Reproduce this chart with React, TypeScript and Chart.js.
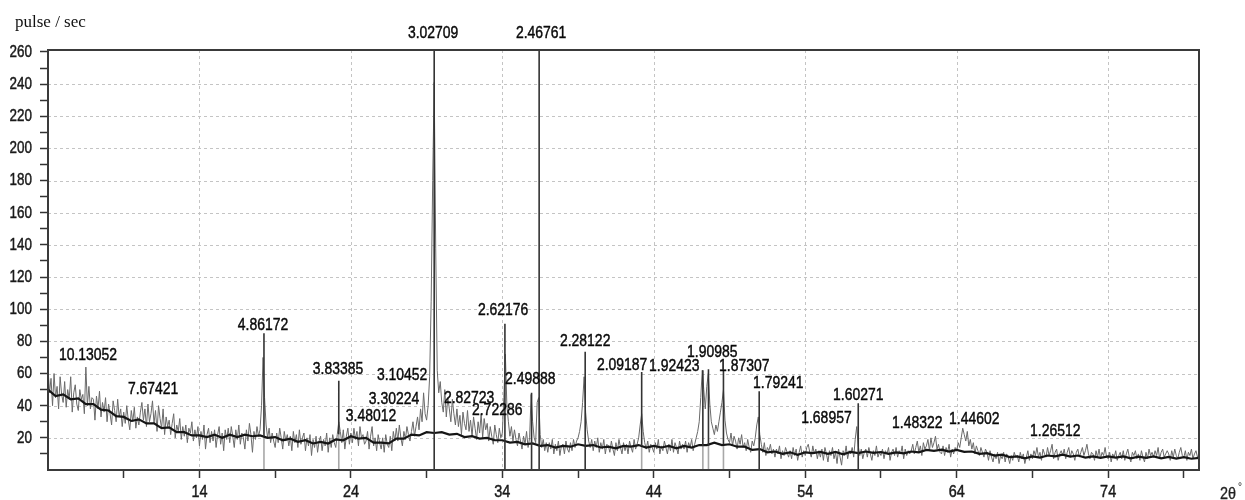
import React, { useEffect, useRef } from "react";
import { Chart, registerables } from "chart.js";

Chart.register(...registerables);

// ---------- data ----------
const angleStart = 4;
const angleStep = 0.1;
// raw counts (pulse / sec), every 0.1° 2θ from 4° to 80°
const rawCounts = [
  63, 48, 57, 40, 60, 45, 52, 38, 58, 47, // 4
  42, 55, 39, 50, 44, 58, 36, 48, 53, 41, // 5
  37, 50, 44, 47, 35, 64, 40, 52, 38, 45, // 6
  44, 31, 46, 38, 49, 33, 42, 36, 45, 30, // 7
  41, 35, 28, 43, 37, 30, 44, 33, 38, 27, // 8
  36, 29, 40, 31, 25, 37, 30, 39, 26, 33, // 9
  28, 36, 42, 31, 38, 27, 41, 30, 35, 43, // 10
  29, 37, 24, 40, 32, 26, 38, 22, 33, 27, // 11
  31, 22, 29, 35, 20, 28, 24, 32, 19, 27, // 12
  21, 28, 17, 26, 23, 30, 18, 25, 20, 27, // 13
  15, 24, 19, 28, 13, 22, 26, 17, 24, 18, // 14
  25, 14, 22, 27, 16, 23, 12, 25, 19, 26, // 15
  17, 27, 21, 14, 25, 19, 28, 16, 23, 20, // 16
  13, 25, 18, 29, 22, 11, 24, 19, 27, 21, // 17
  25, 40, 70, 45, 28, 20, 26, 17, 23, 18, // 18
  14, 23, 17, 26, 20, 13, 24, 18, 22, 15, // 19
  21, 12, 24, 17, 22, 14, 25, 16, 20, 23, // 20
  12, 20, 15, 22, 9, 19, 14, 21, 11, 18, // 21
  21, 12, 19, 15, 23, 11, 20, 14, 22, 17, // 22
  14, 22, 30, 24, 17, 25, 13, 21, 26, 16, // 23
  23, 17, 26, 19, 24, 15, 27, 20, 22, 16, // 24
  18, 24, 13, 21, 27, 15, 20, 12, 22, 17, // 25
  13, 20, 11, 22, 16, 14, 21, 12, 24, 18, // 26
  26, 18, 28, 20, 15, 24, 19, 27, 22, 18, // 27
  24, 30, 21, 27, 33, 25, 38, 30, 48, 35, // 28
  31, 40, 58, 105, 180, 241, 138, 62, 48, 55, // 29
  42, 36, 50, 33, 45, 38, 30, 44, 35, 28, // 30
  38, 27, 34, 22, 36, 29, 25, 37, 24, 31, // 31
  21, 33, 26, 19, 30, 23, 35, 20, 32, 25, // 32
  29, 18, 27, 21, 16, 28, 22, 17, 26, 20, // 33
  23, 45, 72, 40, 30, 21, 27, 18, 25, 19, // 34
  15, 23, 18, 13, 21, 16, 24, 14, 20, 47, // 35
  30, 20, 17, 42, 45, 22, 14, 19, 12, 17, // 36
  11, 17, 13, 19, 10, 16, 12, 18, 9, 15, // 37
  16, 10, 18, 13, 11, 17, 12, 19, 14, 18, // 38
  20, 24, 30, 42, 58, 36, 25, 18, 14, 19, // 39
  12, 18, 14, 20, 11, 17, 13, 19, 10, 16, // 40
  15, 11, 18, 13, 9, 17, 12, 19, 14, 10, // 41
  17, 12, 16, 10, 18, 14, 11, 19, 13, 16, // 42
  20, 28, 35, 24, 17, 13, 18, 11, 16, 14, // 43
  11, 17, 13, 19, 10, 15, 12, 18, 14, 10, // 44
  16, 12, 19, 11, 17, 14, 10, 18, 13, 16, // 45
  13, 18, 11, 17, 14, 19, 12, 16, 20, 24, // 46
  30, 45, 62, 50, 38, 52, 60, 41, 30, 26, // 47
  22, 28, 24, 30, 36, 42, 50, 31, 23, 19, // 48
  17, 23, 15, 21, 18, 13, 20, 16, 22, 14, // 49
  17, 12, 19, 14, 11, 18, 15, 20, 28, 33, // 50
  22, 16, 11, 17, 9, 14, 12, 16, 10, 13, // 51
  8, 13, 10, 15, 7, 12, 9, 14, 11, 8, // 52
  12, 7, 14, 9, 13, 6, 11, 15, 8, 12, // 53
  9, 14, 16, 11, 8, 15, 10, 13, 7, 12, // 54
  8, 13, 6, 14, 10, 5, 12, 9, 14, 7, // 55
  11, 4, 13, 8, 3, 12, 9, 15, 7, 12, // 56
  10, 14, 8, 19, 27, 15, 9, 13, 7, 11, // 57
  13, 8, 14, 10, 6, 12, 9, 15, 8, 11, // 58
  9, 13, 7, 12, 10, 14, 6, 11, 13, 9, // 59
  14, 8, 12, 10, 15, 7, 13, 9, 12, 10, // 60
  12, 16, 10, 14, 18, 11, 15, 9, 17, 13, // 61
  15, 19, 12, 20, 14, 17, 21, 13, 16, 11, // 62
  10, 15, 9, 14, 11, 16, 8, 13, 10, 14, // 63
  12, 17, 14, 20, 26, 22, 18, 24, 15, 19, // 64
  13, 17, 10, 15, 12, 9, 14, 11, 8, 13, // 65
  11, 6, 12, 8, 5, 10, 7, 11, 4, 9, // 66
  7, 11, 5, 10, 8, 4, 9, 6, 11, 8, // 67
  9, 5, 11, 7, 10, 4, 8, 12, 6, 10, // 68
  7, 12, 9, 14, 8, 11, 6, 13, 10, 8, // 69
  14, 9, 12, 16, 7, 11, 13, 6, 10, 12, // 70
  9, 13, 7, 11, 14, 8, 12, 10, 6, 11, // 71
  13, 8, 11, 14, 9, 12, 16, 10, 7, 11, // 72
  10, 6, 12, 8, 13, 7, 11, 9, 14, 8, // 73
  7, 11, 5, 10, 8, 12, 6, 9, 11, 7, // 74
  12, 6, 10, 13, 8, 5, 11, 9, 12, 7, // 75
  10, 6, 12, 8, 5, 11, 7, 13, 9, 11, // 76
  8, 12, 9, 14, 7, 11, 13, 8, 10, 12, // 77
  10, 6, 12, 8, 13, 9, 7, 11, 14, 9, // 78
  8, 12, 6, 11, 9, 13, 7, 10, 12, 8, // 79
  9, // 80
];

// smoothed background, every 0.5°
const bgStep = 0.5;
const backgroundCounts = [
  50, 46, 47, 44, 44.5, 41, 41, 37.5, 37, 33.5, // 4-8.5
  33, 30.5, 31.5, 29, 29, 26, 26.5, 23.5, 23.5, 21.5, // 9-13.5
  21.5, 20.5, 22, 20, 22, 20.5, 22, 21, 21.5, 20, // 14-18.5
  20.5, 18.5, 19.5, 17.5, 18.5, 16.5, 17.5, 16.5, 19, 18.5, // 19-23.5
  21, 19.5, 20, 17, 17, 16.5, 19.5, 19.5, 22, 21.5, // 24-28.5
  23.5, 23, 23.5, 22, 22.5, 20.5, 21, 19.5, 20, 18.5, // 29-33.5
  18.5, 17, 17.5, 16, 16.5, 15, 15.5, 14, 15, 14.5, // 34-38.5
  16, 15, 15.5, 14, 14.5, 13.5, 15, 14.5, 15.5, 14, // 39-43.5
  15, 14, 15, 13.5, 15, 14, 15.5, 15.5, 17, 15.5, // 44-48.5
  16, 14.5, 14.5, 12.5, 13, 11, 11.5, 10, 11, 9.5, // 49-53.5
  11, 10.5, 11.2, 10, 11.2, 9.8, 11.2, 10.5, 11.5, 10.7, // 54-58.5
  11.2, 10, 11, 10.3, 11.5, 11, 12.5, 11.9, 12.7, 11.5, // 59-63.5
  12.5, 11.3, 11.5, 10, 10.5, 9, 9.5, 8, 8.5, 7.3, // 64-68.5
  8.5, 7.7, 9, 8.5, 9.5, 8.3, 9, 7.7, 8.5, 7.5, // 69-73.5
  8.5, 7.7, 8.5, 7.3, 8.3, 7.5, 8.5, 7.3, 8.2, 7.1, // 74-78.5
  8, 7, 7.5, // 79-80
];

// peak marker lines (2θ, top count, count where the dark part starts)
const stickAngles = [18.26, 23.2, 29.5, 34.17, 35.93, 36.43, 39.47, 43.2, 47.24, 47.61, 48.6, 50.96, 57.5];
const stickTops = [85, 55.5, 262, 91, 48, 262, 73.5, 61, 62, 62.7, 61.7, 49, 41.5];
const stickBases = [21, 22, 0, 0, 0, 0, 0, 15, 15, 15, 16, 0, 0];

// peak labels (d-spacing) and where they sit
const peakLabels = [
  "10.13052", "7.67421", "4.86172", "3.83385", "3.48012", "3.30224", "3.10452", "3.02709",
  "2.82723", "2.72286", "2.62176", "2.49888", "2.46761", "2.28122", "2.09187", "1.92423",
  "1.90985", "1.87307", "1.79241", "1.68957", "1.60271", "1.48322", "1.44602", "1.26512",
];
const labelAngles = [
  6.64, 10.94, 18.2, 23.15, 25.33, 26.85, 27.38, 29.43,
  31.81, 33.66, 34.05, 35.84, 36.56, 39.47, 41.91, 45.35,
  47.86, 49.97, 52.22, 55.4, 57.5, 61.4, 65.16, 70.51,
];
const labelCounts = [
  71.5, 50.4, 90.2, 62.6, 33.2, 44.0, 59.1, 271.8,
  44.6, 37.3, 99.5, 56.4, 271.8, 79.8, 65.3, 64.3,
  73.4, 64.7, 53.9, 32.3, 46.6, 29.2, 31.7, 24.3,
];

const xTickValues = [9, 14, 19, 24, 29, 34, 39, 44, 49, 54, 59, 64, 69, 74, 79];
const xLabelValues = [14, 24, 34, 44, 54, 64, 74];
const yTickValues = [10, 20, 30, 40, 50, 60, 70, 80, 90, 100, 110, 120, 130, 140, 150, 160, 170, 180, 190, 200, 210, 220, 230, 240, 250, 260];
const yLabelValues = [20, 40, 60, 80, 100, 120, 140, 160, 180, 200, 220, 240, 260];
const yGridValues = [20, 40, 60, 80, 100, 120, 140, 160, 180, 200, 220, 240];

const X_MIN = 4;
const X_MAX = 80;
const Y_MIN = 0;
const Y_MAX = 261.2;

const SANS = '"Liberation Sans", Arial, sans-serif';

function drawCondensed(ctx: CanvasRenderingContext2D, text: string, x: number, y: number, sx: number) {
  ctx.save();
  ctx.translate(x, y);
  ctx.scale(sx, 1);
  ctx.fillText(text, 0, 0);
  ctx.strokeText(text, 0, 0);
  ctx.restore();
}

const chartDecor = {
  id: "chartDecor",
  beforeDatasetsDraw(chart: any) {
    const { ctx, chartArea, scales } = chart;
    const xs = scales.x;
    const ys = scales.y;
    ctx.save();
    ctx.strokeStyle = "#c4c4c4";
    ctx.lineWidth = 1;
    ctx.setLineDash([3, 3]);
    for (const v of xLabelValues) {
      const px = Math.round(xs.getPixelForValue(v)) + 0.5;
      ctx.beginPath();
      ctx.moveTo(px, chartArea.top);
      ctx.lineTo(px, chartArea.bottom);
      ctx.stroke();
    }
    for (const v of yGridValues) {
      const py = Math.round(ys.getPixelForValue(v)) + 0.5;
      ctx.beginPath();
      ctx.moveTo(chartArea.left, py);
      ctx.lineTo(chartArea.right, py);
      ctx.stroke();
    }
    ctx.restore();
  },
  afterDatasetsDraw(chart: any) {
    const { ctx, chartArea, scales } = chart;
    const xs = scales.x;
    const ys = scales.y;
    ctx.save();
    // frame
    ctx.strokeStyle = "#3a3a3a";
    ctx.lineWidth = 2;
    ctx.strokeRect(chartArea.left, chartArea.top, chartArea.right - chartArea.left, chartArea.bottom - chartArea.top);

    // tick labels
    ctx.fillStyle = "#1a1a1a";
    ctx.strokeStyle = "#1a1a1a";
    ctx.lineWidth = 0.45;
    ctx.font = `16px ${SANS}`;
    ctx.textBaseline = "middle";
    ctx.textAlign = "right";
    for (const v of yLabelValues) {
      drawCondensed(ctx, String(v), chartArea.left - 16, ys.getPixelForValue(v) + 0.5, 0.84);
    }
    ctx.textAlign = "center";
    for (const v of xLabelValues) {
      drawCondensed(ctx, String(v), xs.getPixelForValue(v), chartArea.bottom + 23, 0.9);
    }

    // peak labels
    ctx.fillStyle = "#0a0a0a";
    ctx.strokeStyle = "#0a0a0a";
    ctx.lineWidth = 0.45;
    ctx.font = `17px ${SANS}`;
    ctx.textAlign = "center";
    ctx.textBaseline = "middle";
    peakLabels.forEach((t, i) => {
      drawCondensed(ctx, t, xs.getPixelForValue(labelAngles[i]), ys.getPixelForValue(labelCounts[i]), 0.82);
    });

    // axis titles
    ctx.textAlign = "left";
    ctx.textBaseline = "alphabetic";
    ctx.font = '17px "Liberation Serif", "Times New Roman", serif';
    ctx.fillStyle = "#111";
    ctx.fillText("pulse / sec", 15, 27);
    ctx.font = `16px ${SANS}`;
    ctx.fillStyle = "#222";
    ctx.strokeStyle = "#222";
    ctx.lineWidth = 0.3;
    drawCondensed(ctx, "2θ", 1220, 499, 0.9);
    ctx.font = `10px ${SANS}`;
    ctx.fillText("°", 1238, 490);
    ctx.restore();
  },
};

export default function App() {
  const canvasRef = useRef<HTMLCanvasElement | null>(null);

  useEffect(() => {
    document.body.style.margin = "0";
    const canvas = canvasRef.current;
    if (!canvas) return;

    const rawData = rawCounts.map((y, i) => ({ x: angleStart + i * angleStep, y }));
    const bgData = backgroundCounts.map((y, i) => ({ x: angleStart + i * bgStep, y }));
    const lowSticks: any[] = [];
    const highSticks: any[] = [];
    stickAngles.forEach((a, i) => {
      if (stickBases[i] > 0) {
        lowSticks.push({ x: a, y: 0 }, { x: a, y: stickBases[i] }, { x: a, y: null });
      }
      highSticks.push({ x: a, y: stickBases[i] }, { x: a, y: stickTops[i] }, { x: a, y: null });
    });

    const chart = new Chart(canvas, {
      type: "line",
      data: {
        datasets: [
          {
            label: "peaks",
            data: highSticks,
            borderColor: "#333333",
            borderWidth: 1.6,
            pointRadius: 0,
            spanGaps: false,
            order: 0,
          },
          {
            label: "background",
            data: bgData,
            borderColor: "#151515",
            borderWidth: 2.2,
            pointRadius: 0,
            tension: 0,
            order: 1,
          },
          {
            label: "raw",
            data: rawData,
            borderColor: "#6a6a6a",
            borderWidth: 1,
            pointRadius: 0,
            tension: 0,
            order: 2,
          },
          {
            label: "peak bases",
            data: lowSticks,
            borderColor: "#a8a8a8",
            borderWidth: 1.6,
            pointRadius: 0,
            spanGaps: false,
            order: 3,
          },
        ],
      },
      options: {
        animation: false,
        responsive: false,
        maintainAspectRatio: false,
        layout: { padding: { top: 50, right: 46, left: 0, bottom: 0 } },
        plugins: {
          legend: { display: false },
          tooltip: { enabled: false },
        },
        scales: {
          x: {
            type: "linear",
            min: X_MIN,
            max: X_MAX,
            afterBuildTicks: (scale: any) => {
              scale.ticks = xTickValues.map((v) => ({ value: v }));
            },
            afterFit: (scale: any) => {
              scale.height = 30;
            },
            ticks: {
              autoSkip: false,
              maxRotation: 0,
              callback: () => "",
            },
            grid: {
              display: true,
              drawOnChartArea: false,
              drawTicks: true,
              tickLength: 8,
              tickColor: "#333",
              tickWidth: 1.5,
            },
            border: { display: false },
          },
          y: {
            type: "linear",
            min: Y_MIN,
            max: Y_MAX,
            afterBuildTicks: (scale: any) => {
              scale.ticks = yTickValues.map((v) => ({ value: v }));
            },
            afterFit: (scale: any) => {
              scale.width = 48;
            },
            ticks: {
              autoSkip: false,
              callback: () => "",
            },
            grid: {
              display: true,
              drawOnChartArea: false,
              drawTicks: true,
              tickLength: 8,
              tickColor: "#333",
              tickWidth: 1.5,
            },
            border: { display: false },
          },
        },
      },
      plugins: [chartDecor],
    });

    return () => {
      chart.destroy();
    };
  }, []);

  return (
    <div style={{ position: "fixed", left: 0, top: 0, width: 1245, height: 500, background: "#fff" }}>
      <canvas ref={canvasRef} width={1245} height={500} />
    </div>
  );
}
